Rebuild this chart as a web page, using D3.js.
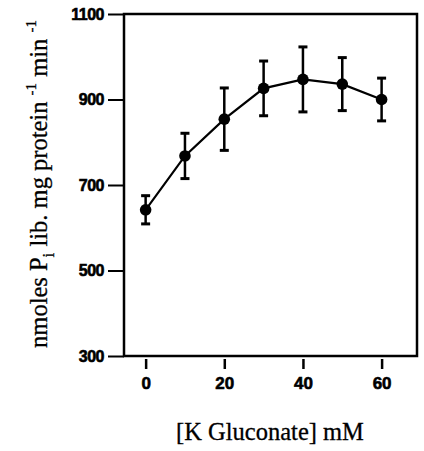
<!DOCTYPE html>
<html>
<head>
<meta charset="utf-8">
<script src="https://cdn.jsdelivr.net/npm/d3@7"></script>
<style>
  html, body { margin: 0; padding: 0; background: #fff; }
  svg { display: block; }
</style>
</head>
<body>
<svg id="chart" width="424" height="451"></svg>
<script>
const concentrations = [0, 10, 20, 30, 40, 50, 60];
const rates = [642, 768, 854, 926, 947, 936, 900];
const errors = [33, 53, 73, 64, 76, 62, 50];
const xTicks = [0, 20, 40, 60];
const yTicks = [300, 500, 700, 900, 1100];

(function () {
const svg = d3.select("#chart");
const pLeft = 124, pRight = 417, pTop = 14, pBottom = 356;

const x = d3.scaleLinear().domain([-5.5, 69]).range([pLeft, pRight]);
const y = d3.scaleLinear().domain([300, 1100]).range([pBottom, pTop]);

// frame
svg.append("rect")
  .attr("x", pLeft).attr("y", pTop)
  .attr("width", pRight - pLeft).attr("height", pBottom - pTop)
  .attr("fill", "none").attr("stroke", "#000").attr("stroke-width", 2.5);

// y axis
const yAxis = svg.append("g")
  .attr("transform", `translate(${pLeft},0)`)
  .call(d3.axisLeft(y).tickValues(yTicks).tickSize(16).tickPadding(4).tickFormat(d3.format("d")));
yAxis.select(".domain").remove();
yAxis.selectAll("line").attr("stroke", "#000").attr("stroke-width", 2);
yAxis.selectAll("text")
  .attr("font-family", "'Liberation Sans', Arial, sans-serif")
  .attr("font-weight", "bold").attr("font-size", 16).attr("fill", "#000")
  .attr("stroke", "#000").attr("stroke-width", 0.6)
  .attr("letter-spacing", -0.5);

// x axis (detached ticks)
const xAxis = svg.append("g")
  .attr("transform", `translate(0,${pBottom + 3})`)
  .call(d3.axisBottom(x).tickValues(xTicks).tickSize(10).tickPadding(8).tickFormat(d3.format("d")));
xAxis.select(".domain").remove();
xAxis.selectAll("line").attr("stroke", "#000").attr("stroke-width", 2.5);
xAxis.selectAll("text")
  .attr("font-family", "'Liberation Sans', Arial, sans-serif")
  .attr("font-weight", "bold").attr("font-size", 17).attr("fill", "#000")
  .attr("stroke", "#000").attr("stroke-width", 0.6);

// line
const pts = concentrations.map((c, i) => ({c, v: rates[i], e: errors[i]}));
svg.append("path")
  .datum(pts)
  .attr("fill", "none").attr("stroke", "#000").attr("stroke-width", 2.2)
  .attr("d", d3.line().x(d => x(d.c)).y(d => y(d.v)));

// error bars
const eb = svg.append("g").selectAll("g").data(pts).join("g");
eb.append("line")
  .attr("x1", d => x(d.c)).attr("x2", d => x(d.c))
  .attr("y1", d => y(d.v + d.e)).attr("y2", d => y(d.v - d.e))
  .attr("stroke", "#000").attr("stroke-width", 2.5);
eb.append("line")
  .attr("x1", d => x(d.c) - 4.5).attr("x2", d => x(d.c) + 4.5)
  .attr("y1", d => y(d.v + d.e)).attr("y2", d => y(d.v + d.e))
  .attr("stroke", "#000").attr("stroke-width", 3);
eb.append("line")
  .attr("x1", d => x(d.c) - 4.5).attr("x2", d => x(d.c) + 4.5)
  .attr("y1", d => y(d.v - d.e)).attr("y2", d => y(d.v - d.e))
  .attr("stroke", "#000").attr("stroke-width", 3);

// markers
svg.append("g").selectAll("circle").data(pts).join("circle")
  .attr("cx", d => x(d.c)).attr("cy", d => y(d.v)).attr("r", 5.8)
  .attr("fill", "#000");

// x title
svg.append("text")
  .attr("x", 270).attr("y", 440)
  .attr("text-anchor", "middle")
  .attr("font-family", "'Liberation Serif', 'Times New Roman', serif")
  .attr("font-size", 24.5).attr("fill", "#000")
  .attr("stroke", "#000").attr("stroke-width", 0.3)
  .text("[K Gluconate] mM");

// y title
const yt = svg.append("text")
  .attr("transform", "translate(47,184) rotate(-90)")
  .attr("text-anchor", "middle")
  .attr("font-family", "'Liberation Serif', 'Times New Roman', serif")
  .attr("font-size", 24.5).attr("fill", "#000")
  .attr("stroke", "#000").attr("stroke-width", 0.3);
yt.append("tspan").text("nmoles P");
yt.append("tspan").attr("font-size", 17).attr("dy", 7).text("i");
yt.append("tspan").attr("dy", -7).text(" lib. mg protein ");
yt.append("tspan").attr("font-size", 15).attr("dy", -11).text("-1");
yt.append("tspan").attr("dy", 11).text(" min ");
yt.append("tspan").attr("font-size", 15).attr("dy", -11).text("-1");
})();
</script>
</body>
</html>
